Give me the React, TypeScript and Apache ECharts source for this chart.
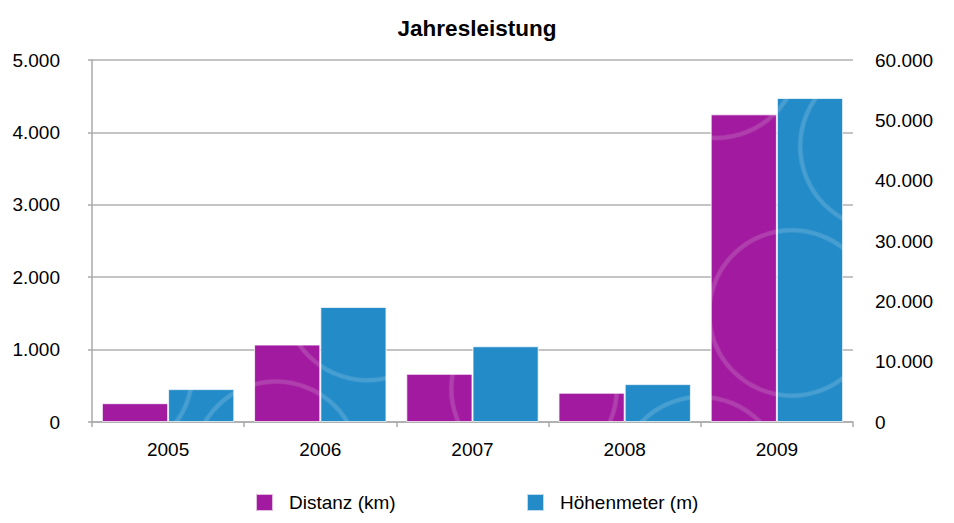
import React, { useEffect, useRef } from "react";
import * as echarts from "echarts";

const categories = ["2005", "2006", "2007", "2008", "2009"];
const distanzKm = [260, 1070, 665, 404, 4250];
const hoehenmeter = [5450, 19060, 12560, 6280, 53700];
const leftTicks = { min: 0, max: 5000, interval: 1000 };
const rightTicks = { min: 0, max: 60000, interval: 10000 };

const fmt = (v: number) => String(v).replace(/\B(?=(\d{3})+(?!\d))/g, ".");

const FONT = "Liberation Sans, Arial, Helvetica, sans-serif";

const swirl = {
  symbol:
    "path://M0,50 A50,50 0 1,1 100,50 A50,50 0 1,1 0,50 Z M2.6,50 A47.4,47.4 0 1,0 97.4,50 A47.4,47.4 0 1,0 2.6,50 Z",
  symbolSize: 1,
  color: "rgba(255,255,255,0.16)",
  dashArrayX: [170, 20],
  dashArrayY: [170, 20],
  rotation: 0.5,
  symbolKeepAspect: false,
};

export default function App() {
  const ref = useRef<HTMLDivElement>(null);
  useEffect(() => {
    document.body.style.margin = "0";
    const chart = echarts.init(ref.current!, undefined, { renderer: "svg" });
    const legendBase = {
      itemWidth: 17,
      itemHeight: 17,
      icon: "rect",
      padding: 0,
      textStyle: { fontFamily: FONT, fontSize: 19, color: "#000", padding: [0, 0, 0, 11] },
    };
    chart.setOption({
      animation: false,
      backgroundColor: "#ffffff",
      textStyle: { fontFamily: FONT },
      title: {
        text: "Jahresleistung",
        left: 472,
        textAlign: "center",
        top: 12,
        textStyle: { fontFamily: FONT, fontSize: 22.5, fontWeight: "bold", color: "#000" },
      },
      legend: [
        { ...legendBase, data: ["Distanz (km)"], left: 255, top: 493 },
        { ...legendBase, data: ["Höhenmeter (m)"], left: 526, top: 493 },
      ],
      grid: { left: 92, right: 101, top: 60, bottom: 101, containLabel: false },
      xAxis: {
        type: "category",
        data: categories,
        axisLine: { show: true, lineStyle: { color: "#aaaaaa", width: 1.5 } },
        axisTick: { show: true, length: 5, lineStyle: { color: "#aaaaaa", width: 1.5 } },
        axisLabel: { color: "#000", fontSize: 19, margin: 18, fontFamily: FONT },
      },
      yAxis: [
        {
          type: "value",
          position: "left",
          ...leftTicks,
          axisLine: { show: true, lineStyle: { color: "#aaaaaa", width: 1.5 } },
          axisTick: { show: true, length: 4, lineStyle: { color: "#aaaaaa", width: 1.5 } },
          splitLine: { show: true, lineStyle: { color: "#b0b0b0", width: 1.5 } },
          axisLabel: { color: "#000", fontSize: 19, margin: 32, fontFamily: FONT, formatter: fmt },
        },
        {
          type: "value",
          position: "right",
          ...rightTicks,
          axisLine: { show: false },
          axisTick: { show: false },
          splitLine: { show: false },
          axisLabel: { color: "#000", fontSize: 19, margin: 22, fontFamily: FONT, formatter: fmt },
        },
      ],
      series: [
        {
          name: "Distanz (km)",
          type: "bar",
          yAxisIndex: 0,
          data: distanzKm,
          barGap: "0%",
          barCategoryGap: "13%",
          itemStyle: {
            color: "#a11a9f",
            borderColor: "rgba(255,255,255,0.45)",
            borderWidth: 1,
            decal: swirl,
          },
        },
        {
          name: "Höhenmeter (m)",
          type: "bar",
          yAxisIndex: 1,
          data: hoehenmeter,
          barGap: "0%",
          barCategoryGap: "13%",
          itemStyle: {
            color: "#238bc8",
            borderColor: "rgba(255,255,255,0.45)",
            borderWidth: 1,
            decal: swirl,
          },
        },
      ],
    });
    return () => chart.dispose();
  }, []);
  return <div ref={ref} style={{ width: 954, height: 523 }} />;
}
